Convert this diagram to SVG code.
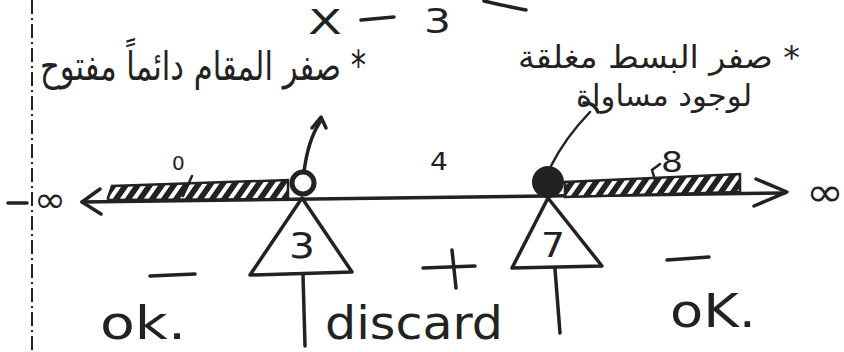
<svg xmlns="http://www.w3.org/2000/svg" width="844" height="352" viewBox="0 0 844 352">
<defs>
<style>
.ink{fill:none;stroke:#222;stroke-width:3.5;stroke-linecap:round;stroke-linejoin:round}
.thin{fill:none;stroke:#222;stroke-width:2.5;stroke-linecap:round}
.hw{font-family:"DejaVu Sans","Liberation Sans",sans-serif;fill:#222}
.ar{font-family:"DejaVu Sans","Noto Sans",sans-serif;fill:#222}
</style>
<pattern id="hatch" width="12" height="20" patternUnits="userSpaceOnUse" patternTransform="skewX(-35)">
<rect width="12" height="20" fill="#fff"/>
<rect width="7" height="20" fill="#222"/>
</pattern>
</defs>
<rect width="844" height="352" fill="#fff"/>

<g id="margin">
<line x1="32" y1="0" x2="32" y2="352" stroke="#222" stroke-width="2" stroke-dasharray="14,4,2,4"/>
</g>

<g id="title">
<text class="hw" x="308" y="34" font-size="34" textLength="34" lengthAdjust="spacingAndGlyphs">X</text>
<line class="ink" x1="361" y1="20" x2="394" y2="17"/>
<text class="hw" x="424" y="33" font-size="34" textLength="27" lengthAdjust="spacingAndGlyphs">3</text>
<path class="ink" d="M484 1 Q505 6 526 10"/>
</g>

<g id="note-left">
<text class="ar" x="366" y="80" font-size="40" direction="rtl" text-anchor="start" textLength="326" lengthAdjust="spacingAndGlyphs">* صفر المقام دائماً مفتوح</text>
</g>

<g id="note-right">
<text class="ar" x="800" y="68" font-size="32" direction="rtl" text-anchor="start" textLength="282" lengthAdjust="spacingAndGlyphs">* صفر البسط مغلقة</text>
<text class="ar" x="752" y="106" font-size="30" direction="rtl" text-anchor="start" textLength="176" lengthAdjust="spacingAndGlyphs">لوجود مساواة</text>
</g>

<g id="number-line">
<line class="ink" x1="8" y1="203" x2="27" y2="203"/>
<text class="hw" x="34" y="212" font-size="36" textLength="32" lengthAdjust="spacingAndGlyphs">∞</text>
<line class="ink" x1="82" y1="202" x2="785" y2="193"/>
<path class="ink" d="M100 189 L82 202 L101 214"/>
<path class="ink" d="M756 179 L787 192 L754 206"/>
<text class="hw" x="806" y="206" font-size="40" textLength="38" lengthAdjust="spacingAndGlyphs">∞</text>
<path d="M108 198 L112 186 L288 180 L288 199 L108 200 Z" fill="url(#hatch)" stroke="#222" stroke-width="2.5"/>
<path d="M565 197 L565 182 L740 174 L740 192 Z" fill="url(#hatch)" stroke="#222" stroke-width="2.5"/>
</g>

<g id="ticks">
<text class="hw" x="172" y="170" font-size="20">0</text>
<line class="thin" x1="183" y1="196" x2="192" y2="176"/>
<text class="hw" x="430" y="170" font-size="24" textLength="18" lengthAdjust="spacingAndGlyphs">4</text>
<text class="hw" x="661" y="172" font-size="28" textLength="22" lengthAdjust="spacingAndGlyphs">8</text>
<path class="thin" d="M660 164 L652 170 L655 180"/>
</g>

<g id="zero-3">
<circle cx="303" cy="183" r="11" fill="#fff" stroke="#222" stroke-width="5"/>
<path class="ink" d="M302 198 L250 275 L352 272 Z"/>
<text class="hw" x="289" y="258" font-size="36" textLength="26" lengthAdjust="spacingAndGlyphs">3</text>
<line class="ink" x1="303" y1="275" x2="305" y2="346"/>
</g>

<g id="zero-7">
<circle cx="548" cy="182" r="16" fill="#222"/>
<path class="ink" d="M548 198 L512 268 L602 266 Z"/>
<text class="hw" x="541" y="257" font-size="34" textLength="24" lengthAdjust="spacingAndGlyphs">7</text>
<line class="ink" x1="555" y1="269" x2="560" y2="333"/>
</g>

<g id="signs">
<line class="ink" x1="150" y1="276" x2="195" y2="274"/>
<line class="ink" x1="423" y1="268" x2="475" y2="266"/>
<line class="ink" x1="452" y1="250" x2="456" y2="288"/>
<line class="ink" x1="667" y1="260" x2="709" y2="257"/>
</g>

<g id="labels">
<text class="hw" x="100" y="339" font-size="46" textLength="86" lengthAdjust="spacingAndGlyphs">ok.</text>
<text class="hw" x="325" y="339" font-size="46" textLength="178" lengthAdjust="spacingAndGlyphs">discard</text>
<text class="hw" x="670" y="327" font-size="46" textLength="86" lengthAdjust="spacingAndGlyphs">oK.</text>
</g>

<g id="connectors">
<path class="ink" d="M304 172 Q308 140 320 122"/>
<path class="ink" d="M312 128 L321 117 L326 128"/>
<path class="thin" d="M551 166 Q565 138 590 112" stroke-width="3"/>
<path class="ink" d="M584 103 Q594 102 598 112"/>
</g>
</svg>
